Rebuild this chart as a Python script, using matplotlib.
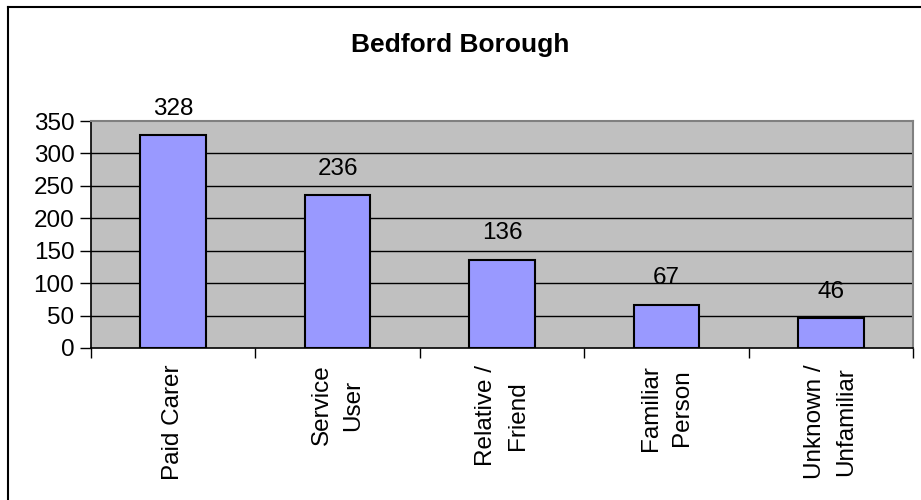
import matplotlib
matplotlib.use("Agg")
import matplotlib.pyplot as plt
from matplotlib.lines import Line2D

categories = ["Paid Carer", "Service\nUser", "Relative /\nFriend", "Familiar\nPerson", "Unknown /\nUnfamiliar"]
values = [328, 236, 136, 67, 46]
yticks = [0, 50, 100, 150, 200, 250, 300, 350]
title = "Bedford Borough"

plt.rcParams['font.family'] = ['Liberation Sans', 'DejaVu Sans']

fig = plt.figure(figsize=(9.21, 5.0), dpi=100)
fig.patch.set_facecolor('white')
ax = fig.add_axes([91/921, 1-348/500, (913-91)/921, (348-121)/500])
ax.set_facecolor('#C0C0C0')

x = list(range(len(categories)))
ax.set_axisbelow(True)
for t in yticks[1:-1]:
    ax.axhline(t, color='black', lw=1.0, zorder=1)
bars = ax.bar(x, values, width=0.4, color='#9999FF', edgecolor='black', linewidth=1.5, zorder=2)
for xi, v in zip(x, values):
    ax.annotate(str(v), (xi, v), xytext=(0, 19), textcoords='offset points',
                ha='center', va='center', fontsize=17.5)

ax.set_xlim(-0.5, len(categories) - 0.5)
ax.set_ylim(0, 350)
ax.set_yticks(yticks)
ax.set_yticklabels([str(t) for t in yticks], fontsize=17.5)
ax.set_xticks(x)
ax.set_xticklabels(categories, rotation=90, fontsize=17.5, ha='center', va='top', linespacing=1.55)
ax.tick_params(axis='x', length=0, pad=12)
ax.tick_params(axis='y', length=8, width=1, color='black', pad=4)
ax.set_xticks([i - 0.5 for i in range(len(categories) + 1)], minor=True)
ax.tick_params(axis='x', which='minor', length=7, width=1, color='black', direction='out')

ax.spines['left'].set_color('black')
ax.spines['bottom'].set_color('black')
ax.spines['left'].set_linewidth(1.2)
ax.spines['bottom'].set_linewidth(1.2)
ax.spines['top'].set_color('#808080')
ax.spines['right'].set_color('#808080')
ax.spines['top'].set_linewidth(1.5)
ax.spines['right'].set_linewidth(1.5)

fig.text(0.5, 1-45/500, title, ha='center', va='center', fontsize=19, fontweight='bold')

# outer frame (left and top visible)
fig.add_artist(Line2D([8/921, 8/921], [0, 1-7/500], color='black', lw=1.5, transform=fig.transFigure))
fig.add_artist(Line2D([8/921, 1], [1-7/500, 1-7/500], color='black', lw=1.5, transform=fig.transFigure))

fig.savefig("out.png", dpi=100)
